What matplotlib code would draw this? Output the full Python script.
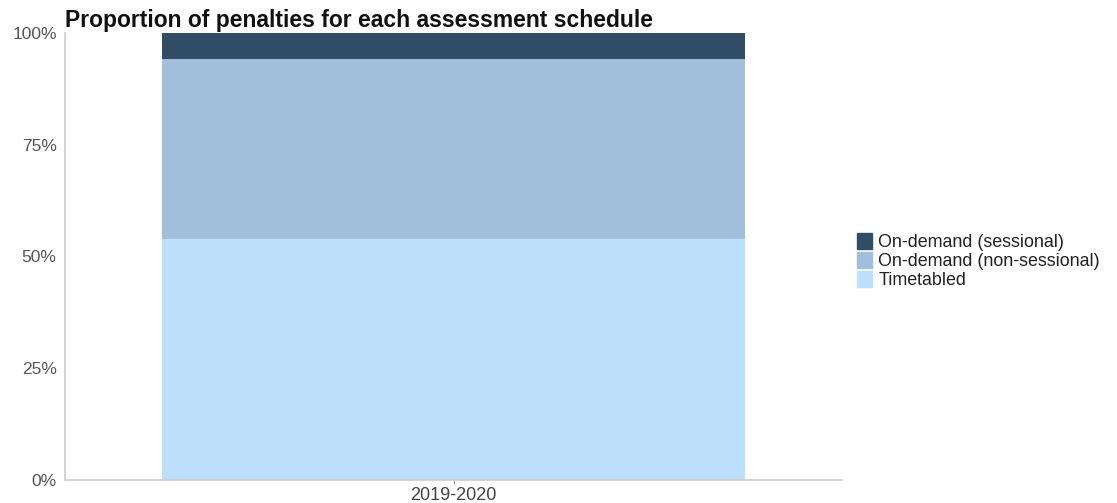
import matplotlib
matplotlib.use("Agg")
import matplotlib.pyplot as plt
from matplotlib.patches import Patch

plt.rcParams['font.family'] = ['Liberation Sans', 'DejaVu Sans']

categories = ["2019-2020"]
series_names = ["Timetabled", "On-demand (non-sessional)", "On-demand (sessional)"]
timetabled = [54.0]
non_sessional = [40.2]
sessional = [5.8]
colors = ["#bcdffb", "#a1bedb", "#304d65"]
yticks = [0, 25, 50, 75, 100]
ytick_labels = ["0%", "25%", "50%", "75%", "100%"]

fig = plt.figure(figsize=(11.17, 5.03), dpi=100)
ax = fig.add_axes([65/1117, 1 - 480/503, 777/1117, 447/503])

x = list(range(len(categories)))
bottom = [0.0] * len(categories)
for name, vals, col in zip(series_names, [timetabled, non_sessional, sessional], colors):
    ax.bar(x, vals, bottom=bottom, width=0.75, color=col, label=name, linewidth=0)
    bottom = [b + v for b, v in zip(bottom, vals)]

ax.set_xlim(-0.5, 0.5)
ax.set_ylim(0, 100)
ax.set_xticks(x)
ax.set_xticklabels(categories, fontsize=13, color="#444444")
ax.set_yticks(yticks)
ax.set_yticklabels(ytick_labels, fontsize=12.5, color="#555555")
ax.tick_params(axis='y', length=0, pad=6)
ax.tick_params(axis='x', length=3, color="#999999", pad=2)
for s in ["top", "right"]:
    ax.spines[s].set_visible(False)
for s in ["left", "bottom"]:
    ax.spines[s].set_color("#cccccc")
    ax.spines[s].set_linewidth(1.2)

fig.text(65/1117, 1 - 27/503, "Proportion of penalties for each assessment schedule",
         fontsize=16.5, fontweight="bold", va="baseline", ha="left", color="#111111")

handles = [Patch(color=c, label=n) for n, c in zip(series_names, colors)][::-1]
fig.legend(handles=handles, loc="center left", bbox_to_anchor=(848/1117, 1 - 261/503),
           frameon=False, fontsize=12.9, handlelength=0.85, handleheight=1.0,
           handletextpad=0.35, labelspacing=0.05, borderpad=0, labelcolor="#222222")

fig.savefig("out.png", dpi=100)
